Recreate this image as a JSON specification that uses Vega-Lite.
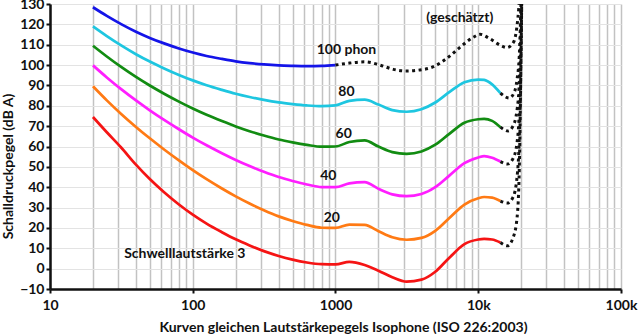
{
"$schema": "https://vega.github.io/schema/vega-lite/v6.json",
"width": 571, "height": 285,
"autosize": {"type": "none"},
"padding": {"left": 50, "top": 4, "right": 19, "bottom": 45},
"background": "white",
"config": {"view": {"stroke": null}, "font": "Lato", "axis": {"labelOverlap": false, "labelSeparation": 0}},
"datasets": {
"solid": [
{"f":20,"db":74.5,"c":"thr"},{"f":25,"db":67,"c":"thr"},{"f":31.5,"db":59.5,"c":"thr"},{"f":40,"db":51.1,"c":"thr"},{"f":50,"db":44.0,"c":"thr"},{"f":63,"db":37.5,"c":"thr"},{"f":80,"db":31.5,"c":"thr"},{"f":100,"db":26.5,"c":"thr"},{"f":125,"db":22.1,"c":"thr"},{"f":160,"db":17.9,"c":"thr"},{"f":200,"db":14.4,"c":"thr"},{"f":250,"db":11.4,"c":"thr"},{"f":315,"db":8.6,"c":"thr"},{"f":400,"db":6.2,"c":"thr"},{"f":500,"db":4.4,"c":"thr"},{"f":630,"db":3.0,"c":"thr"},{"f":800,"db":2.2,"c":"thr"},{"f":1000,"db":2.1,"c":"thr"},{"f":1250,"db":3.3,"c":"thr"},{"f":1600,"db":1.8,"c":"thr"},{"f":2000,"db":-1.0,"c":"thr"},{"f":2500,"db":-4.2,"c":"thr"},{"f":3150,"db":-6.4,"c":"thr"},{"f":4000,"db":-5.4,"c":"thr"},{"f":5000,"db":-1.5,"c":"thr"},{"f":6300,"db":5.5,"c":"thr"},{"f":8000,"db":12.0,"c":"thr"},{"f":10000,"db":14.3,"c":"thr"},{"f":11000,"db":14.6,"c":"thr"},{"f":12500,"db":14.3,"c":"thr"},{"f":14300,"db":12.8,"c":"thr"},
{"f":20,"db":89.58,"c":"p20"},{"f":25,"db":82.65,"c":"p20"},{"f":31.5,"db":75.98,"c":"p20"},{"f":40,"db":69.62,"c":"p20"},{"f":50,"db":64.02,"c":"p20"},{"f":63,"db":58.55,"c":"p20"},{"f":80,"db":53.19,"c":"p20"},{"f":100,"db":48.38,"c":"p20"},{"f":125,"db":43.94,"c":"p20"},{"f":160,"db":39.37,"c":"p20"},{"f":200,"db":35.51,"c":"p20"},{"f":250,"db":31.99,"c":"p20"},{"f":315,"db":28.69,"c":"p20"},{"f":400,"db":25.67,"c":"p20"},{"f":500,"db":23.43,"c":"p20"},{"f":630,"db":21.48,"c":"p20"},{"f":800,"db":20.1,"c":"p20"},{"f":1000,"db":20.0,"c":"p20"},{"f":1250,"db":21.6,"c":"p20"},{"f":1600,"db":21.5,"c":"p20"},{"f":2000,"db":18.4,"c":"p20"},{"f":2500,"db":15.4,"c":"p20"},{"f":3150,"db":14.2,"c":"p20"},{"f":4000,"db":15.1,"c":"p20"},{"f":5000,"db":18.6,"c":"p20"},{"f":6300,"db":25.0,"c":"p20"},{"f":8000,"db":31.5,"c":"p20"},{"f":10000,"db":34.6,"c":"p20"},{"f":11000,"db":35.2,"c":"p20"},{"f":12500,"db":34.9,"c":"p20"},{"f":14300,"db":33.2,"c":"p20"},
{"f":20,"db":99.85,"c":"p40"},{"f":25,"db":93.94,"c":"p40"},{"f":31.5,"db":88.17,"c":"p40"},{"f":40,"db":82.63,"c":"p40"},{"f":50,"db":77.79,"c":"p40"},{"f":63,"db":73.08,"c":"p40"},{"f":80,"db":68.48,"c":"p40"},{"f":100,"db":64.37,"c":"p40"},{"f":125,"db":60.59,"c":"p40"},{"f":160,"db":56.7,"c":"p40"},{"f":200,"db":53.41,"c":"p40"},{"f":250,"db":50.4,"c":"p40"},{"f":315,"db":47.58,"c":"p40"},{"f":400,"db":44.98,"c":"p40"},{"f":500,"db":43.05,"c":"p40"},{"f":630,"db":41.34,"c":"p40"},{"f":800,"db":40.06,"c":"p40"},{"f":1000,"db":40.0,"c":"p40"},{"f":1250,"db":41.9,"c":"p40"},{"f":1600,"db":42.5,"c":"p40"},{"f":2000,"db":39.2,"c":"p40"},{"f":2500,"db":36.5,"c":"p40"},{"f":3150,"db":35.6,"c":"p40"},{"f":4000,"db":36.65,"c":"p40"},{"f":5000,"db":40.0,"c":"p40"},{"f":6300,"db":45.8,"c":"p40"},{"f":8000,"db":51.8,"c":"p40"},{"f":10000,"db":54.6,"c":"p40"},{"f":11000,"db":55.3,"c":"p40"},{"f":12500,"db":54.5,"c":"p40"},{"f":14300,"db":52.6,"c":"p40"},
{"f":20,"db":109.51,"c":"p60"},{"f":25,"db":104.23,"c":"p60"},{"f":31.5,"db":99.08,"c":"p60"},{"f":40,"db":94.18,"c":"p60"},{"f":50,"db":89.96,"c":"p60"},{"f":63,"db":85.94,"c":"p60"},{"f":80,"db":82.05,"c":"p60"},{"f":100,"db":78.65,"c":"p60"},{"f":125,"db":75.56,"c":"p60"},{"f":160,"db":72.47,"c":"p60"},{"f":200,"db":69.86,"c":"p60"},{"f":250,"db":67.53,"c":"p60"},{"f":315,"db":65.39,"c":"p60"},{"f":400,"db":63.45,"c":"p60"},{"f":500,"db":62.05,"c":"p60"},{"f":630,"db":60.82,"c":"p60"},{"f":800,"db":59.89,"c":"p60"},{"f":1000,"db":60.0,"c":"p60"},{"f":1250,"db":62.2,"c":"p60"},{"f":1600,"db":63.0,"c":"p60"},{"f":2000,"db":59.96,"c":"p60"},{"f":2500,"db":57.25,"c":"p60"},{"f":3150,"db":56.4,"c":"p60"},{"f":4000,"db":57.57,"c":"p60"},{"f":5000,"db":60.89,"c":"p60"},{"f":6300,"db":66.36,"c":"p60"},{"f":8000,"db":71.66,"c":"p60"},{"f":10000,"db":73.4,"c":"p60"},{"f":11000,"db":73.6,"c":"p60"},{"f":12500,"db":72.6,"c":"p60"},{"f":14300,"db":69.5,"c":"p60"},
{"f":20,"db":118.99,"c":"p80"},{"f":25,"db":114.23,"c":"p80"},{"f":31.5,"db":109.65,"c":"p80"},{"f":40,"db":105.34,"c":"p80"},{"f":50,"db":101.72,"c":"p80"},{"f":63,"db":98.36,"c":"p80"},{"f":80,"db":95.17,"c":"p80"},{"f":100,"db":92.48,"c":"p80"},{"f":125,"db":90.09,"c":"p80"},{"f":160,"db":87.82,"c":"p80"},{"f":200,"db":85.92,"c":"p80"},{"f":250,"db":84.31,"c":"p80"},{"f":315,"db":82.89,"c":"p80"},{"f":400,"db":81.68,"c":"p80"},{"f":500,"db":80.86,"c":"p80"},{"f":630,"db":80.17,"c":"p80"},{"f":800,"db":79.8,"c":"p80"},{"f":1000,"db":80.2,"c":"p80"},{"f":1250,"db":82.4,"c":"p80"},{"f":1600,"db":83.0,"c":"p80"},{"f":2000,"db":80.59,"c":"p80"},{"f":2500,"db":77.88,"c":"p80"},{"f":3150,"db":77.07,"c":"p80"},{"f":4000,"db":78.31,"c":"p80"},{"f":5000,"db":81.62,"c":"p80"},{"f":6300,"db":86.81,"c":"p80"},{"f":8000,"db":91.6,"c":"p80"},{"f":10000,"db":92.9,"c":"p80"},{"f":11000,"db":92.7,"c":"p80"},{"f":12500,"db":90.5,"c":"p80"},{"f":14300,"db":86.2,"c":"p80"},
{"f":20,"db":128.41,"c":"p100"},{"f":25,"db":124.15,"c":"p100"},{"f":31.5,"db":120.11,"c":"p100"},{"f":40,"db":116.38,"c":"p100"},{"f":50,"db":113.35,"c":"p100"},{"f":63,"db":110.65,"c":"p100"},{"f":80,"db":108.16,"c":"p100"},{"f":100,"db":106.17,"c":"p100"},{"f":125,"db":104.48,"c":"p100"},{"f":160,"db":103.03,"c":"p100"},{"f":200,"db":101.85,"c":"p100"},{"f":250,"db":100.97,"c":"p100"},{"f":315,"db":100.3,"c":"p100"},{"f":400,"db":99.83,"c":"p100"},{"f":500,"db":99.62,"c":"p100"},{"f":630,"db":99.5,"c":"p100"},{"f":800,"db":99.6,"c":"p100"},{"f":1000,"db":100.0,"c":"p100"}
],
"dotted": [
{"f":14300,"db":12.8,"c":"thr"},{"f":16000,"db":11.2,"c":"thr"},{"f":17500,"db":15,"c":"thr"},{"f":18700,"db":25,"c":"thr"},{"f":19400,"db":50,"c":"thr"},{"f":19900,"db":100,"c":"thr"},{"f":20300,"db":150,"c":"thr"},
{"f":14300,"db":33.2,"c":"p20"},{"f":16000,"db":32.2,"c":"p20"},{"f":17500,"db":35,"c":"p20"},{"f":18700,"db":45,"c":"p20"},{"f":19400,"db":65,"c":"p20"},{"f":19900,"db":100,"c":"p20"},{"f":20300,"db":150,"c":"p20"},
{"f":14300,"db":52.6,"c":"p40"},{"f":16000,"db":51.4,"c":"p40"},{"f":17500,"db":54,"c":"p40"},{"f":18700,"db":62,"c":"p40"},{"f":19400,"db":78,"c":"p40"},{"f":19900,"db":110,"c":"p40"},{"f":20300,"db":150,"c":"p40"},
{"f":14300,"db":69.5,"c":"p60"},{"f":16200,"db":67.6,"c":"p60"},{"f":17500,"db":70,"c":"p60"},{"f":18700,"db":78,"c":"p60"},{"f":19400,"db":92,"c":"p60"},{"f":19900,"db":118,"c":"p60"},{"f":20300,"db":150,"c":"p60"},
{"f":14300,"db":86.2,"c":"p80"},{"f":16500,"db":83.8,"c":"p80"},{"f":17700,"db":86,"c":"p80"},{"f":18700,"db":93,"c":"p80"},{"f":19400,"db":105,"c":"p80"},{"f":19900,"db":128,"c":"p80"},{"f":20300,"db":150,"c":"p80"},
{"f":1000,"db":100,"c":"p100"},{"f":1200,"db":100.8,"c":"p100"},{"f":1600,"db":101.6,"c":"p100"},{"f":2050,"db":100,"c":"p100"},{"f":2540,"db":97.9,"c":"p100"},{"f":3070,"db":97.1,"c":"p100"},{"f":3900,"db":97.6,"c":"p100"},{"f":4850,"db":99.2,"c":"p100"},{"f":6000,"db":103.2,"c":"p100"},{"f":7500,"db":108.9,"c":"p100"},{"f":9300,"db":113.8,"c":"p100"},{"f":10300,"db":115.1,"c":"p100"},{"f":12100,"db":112.9,"c":"p100"},{"f":14300,"db":109.7,"c":"p100"},{"f":15900,"db":108.6,"c":"p100"},{"f":17700,"db":111.3,"c":"p100"},{"f":18700,"db":119.4,"c":"p100"},{"f":19200,"db":127.5,"c":"p100"},{"f":19700,"db":140,"c":"p100"}
],
"labels": [
{"f":1194,"db":107.3,"t":"100 phon"},
{"f":1194,"db":86.7,"t":"80"},
{"f":1141,"db":66.0,"t":"60"},
{"f":890,"db":45.3,"t":"40"},
{"f":942,"db":24.9,"t":"20"},
{"f":88,"db":7.3,"t":"Schwelllautstärke 3"},
{"f":7413,"db":123.3,"t":"(geschätzt)"}
]
},
"encoding": {
"x": {"field": "f", "type": "quantitative",
 "scale": {"type": "log", "domain": [10, 100000]},
 "axis": {
  "values": [10,20,30,40,50,60,70,80,90,100,200,300,400,500,600,700,800,900,1000,2000,3000,4000,5000,6000,7000,8000,9000,10000,20000,30000,40000,50000,60000,70000,80000,90000,100000],
  "labelExpr": "datum.value==10?'10':datum.value==100?'100':datum.value==1000?'1000':datum.value==10000?'10k':datum.value==100000?'100k':''",
  "labelOverlap": false, "labelFlush": false,
  "grid": true, "gridColor": "#c2c2c2", "gridWidth": 1.5,
  "tickOpacity": {"condition": {"test": "indexof([10,100,1000,10000,100000], datum.value) >= 0", "value": 1}, "value": 0},
  "tickSize": 4, "tickWidth": 2, "tickColor": "#111",
  "domainColor": "#111", "domainWidth": 2.5,
  "labelFont": "Lato", "labelFontWeight": "bold", "labelFontSize": 14, "labelColor": "#111", "labelPadding": 5,
  "title": "Kurven gleichen Lautstärkepegels Isophone (ISO 226:2003)",
  "titleFont": "Lato", "titleFontSize": 14, "titleFontWeight": "bold", "titleColor": "#111",
  "titleX": 293, "titleY": 38, "titleBaseline": "middle", "titleAlign": "center"
 }},
"y": {"field": "db", "type": "quantitative",
 "scale": {"domain": [-10, 130], "nice": false, "zero": false},
 "axis": {
  "values": [-10,0,10,20,30,40,50,60,70,80,90,100,110,120,130],
  "labelOverlap": false, "labelFlush": false,
  "grid": true, "gridColor": "#e3e3e3", "gridWidth": 1.2,
  "tickSize": 4, "tickWidth": 2, "tickColor": "#111",
  "domainColor": "#111", "domainWidth": 2.5,
  "labelFont": "Lato", "labelFontWeight": "bold", "labelFontSize": 14, "labelColor": "#111", "labelPadding": 2,
  "title": "Schalldruckpegel (dB A)",
  "titleFont": "Lato", "titleFontSize": 14, "titleFontWeight": "bold", "titleColor": "#111",
  "titleX": -42, "titleY": 162, "titleBaseline": "middle", "titleAlign": "center", "titleAngle": -90
 }}
},
"layer": [
{
"data": {"name": "solid"},
"mark": {"type": "line", "interpolate": "monotone", "strokeWidth": 2.7, "clip": true},
"encoding": {
"color": {"field": "c", "type": "nominal",
 "scale": {"domain": ["thr","p20","p40","p60","p80","p100"], "range": ["#f51414","#ff7a14","#ff1eff","#128c12","#1ec6e0","#1414e8"]},
 "legend": null}
}
},
{
"data": {"name": "dotted"},
"mark": {"type": "line", "interpolate": "monotone", "strokeWidth": 3, "strokeDash": [3, 3.5], "color": "#111", "clip": true},
"encoding": {
"detail": {"field": "c", "type": "nominal"}
}
},
{
"data": {"name": "labels"},
"mark": {"type": "text", "font": "Lato", "fontWeight": "bold", "fontSize": 14, "color": "#111", "align": "center", "baseline": "middle"},
"encoding": {
"text": {"field": "t", "type": "nominal"}
}
}
]
}
